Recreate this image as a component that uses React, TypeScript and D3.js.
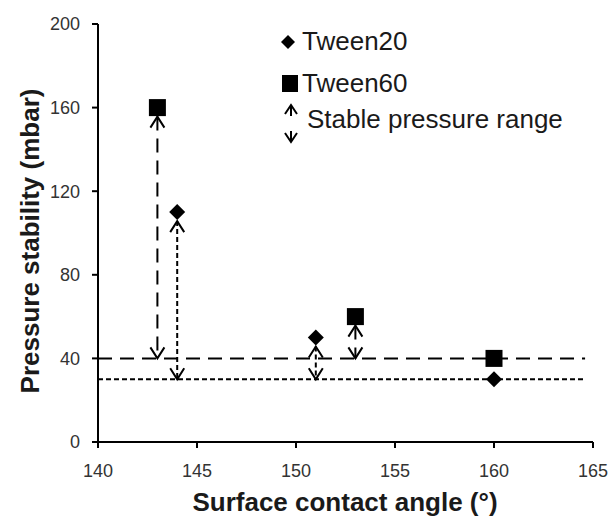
import React from "react";
import { scaleLinear } from "d3";

const width = 610;
const height = 517;
const margin = { top: 24, right: 17, bottom: 75, left: 98 };

// data
const xTicks = [140, 145, 150, 155, 160, 165];
const yTicks = [0, 40, 80, 120, 160, 200];

const tween20X = [144, 151, 160];
const tween20Y = [110, 50, 30];
const tween60X = [143, 153, 160];
const tween60Y = [160, 60, 40];

// stable pressure ranges (arrows): x and top value, down to the base line
const rangeX20 = [144, 151];
const rangeTop20 = [110, 50];
const rangeX60 = [143, 153];
const rangeTop60 = [160, 60];
const base20 = 30;
const base60 = 40;
const baseLineEnd = 164.6;

const longDash = "14,8";
const shortDash = "5,3";
const textColor = "#1a1a1a";

const App = () => {
  const innerWidth = width - margin.left - margin.right;
  const innerHeight = height - margin.top - margin.bottom;

  const x = scaleLinear().domain([140, 165]).range([0, innerWidth]);
  const y = scaleLinear().domain([0, 200]).range([innerHeight, 0]);

  const hw = 7; // arrow head half width
  const hh = 11; // arrow head height

  const arrow = (cx: number, top: number, bottom: number, dash: string, key: string) => {
    const y1 = y(top) + 9;
    const y2 = y(bottom);
    const px = x(cx);
    return (
      <g key={key} stroke="black" strokeWidth={2} fill="none">
        <line x1={px} x2={px} y1={y1} y2={y2} strokeDasharray={dash} />
        <path d={`M${px - hw},${y1 + hh} L${px},${y1} L${px + hw},${y1 + hh}`} />
        <path d={`M${px - hw},${y2 - hh} L${px},${y2} L${px + hw},${y2 - hh}`} />
      </g>
    );
  };

  const diamond = (cx: number, cy: number, r: number) =>
    `M${cx},${cy - r} L${cx + r},${cy} L${cx},${cy + r} L${cx - r},${cy} Z`;

  return (
    <svg
      width={width}
      height={height}
      style={{ position: "absolute", left: 0, top: 0, fontFamily: "Liberation Sans, Arial, sans-serif" }}
    >
      <rect width={width} height={height} fill="white" />
      <g transform={`translate(${margin.left},${margin.top})`}>
        {/* reference lines */}
        <line x1={0} x2={x(baseLineEnd)} y1={y(base60)} y2={y(base60)} stroke="black" strokeWidth={2} strokeDasharray={longDash} />
        <line x1={0} x2={x(baseLineEnd)} y1={y(base20)} y2={y(base20)} stroke="black" strokeWidth={2} strokeDasharray={shortDash} />

        {/* axes */}
        <line x1={0} x2={0} y1={0} y2={innerHeight} stroke="black" strokeWidth={2} />
        <line x1={0} x2={innerWidth} y1={innerHeight} y2={innerHeight} stroke="black" strokeWidth={2} />
        {yTicks.map((t) => (
          <g key={t} transform={`translate(0,${y(t)})`}>
            <line x1={-6} x2={0} stroke="black" strokeWidth={2} />
            <text x={-18} dy=".35em" textAnchor="end" fontSize={18} fill="#333">
              {t}
            </text>
          </g>
        ))}
        {xTicks.map((t) => (
          <g key={t} transform={`translate(${x(t)},${innerHeight})`}>
            <line y1={0} y2={6} stroke="black" strokeWidth={2} />
            <text y={35} textAnchor="middle" fontSize={18} fill="#333">
              {t}
            </text>
          </g>
        ))}

        {/* arrows */}
        {rangeX60.map((cx, i) => arrow(cx, rangeTop60[i], base60, longDash, `a60${i}`))}
        {rangeX20.map((cx, i) => arrow(cx, rangeTop20[i], base20, shortDash, `a20${i}`))}

        {/* markers */}
        {tween60X.map((cx, i) => (
          <rect key={`s${i}`} x={x(cx) - 8.5} y={y(tween60Y[i]) - 8.5} width={17} height={17} fill="black" />
        ))}
        {tween20X.map((cx, i) => (
          <path key={`d${i}`} d={diamond(x(cx), y(tween20Y[i]), 8)} fill="black" />
        ))}
      </g>

      {/* legend */}
      <g>
        <path d={diamond(288, 42, 7)} fill="black" />
        <text x={302} y={50} fontSize={26} fill={textColor}>Tween20</text>
        <rect x={282} y={75} width={16} height={17} fill="black" />
        <text x={302} y={92} fontSize={26} fill={textColor}>Tween60</text>
        <g stroke="black" strokeWidth={2} fill="none">
          <path d="M285,114 L291,105 L297,114" />
          <line x1={291} x2={291} y1={105} y2={116} />
          <line x1={291} x2={291} y1={131} y2={142} />
          <path d="M285,133 L291,142 L297,133" />
        </g>
        <text x={307} y={128} fontSize={26} fill={textColor}>Stable pressure range</text>
      </g>

      {/* axis titles */}
      <text
        transform={`translate(39,241) rotate(-90)`}
        textAnchor="middle"
        fontSize={26}
        fontWeight="bold"
        fill={textColor}
      >
        Pressure stability (mbar)
      </text>
      <text x={345} y={511} textAnchor="middle" fontSize={26} fontWeight="bold" fill={textColor}>
        Surface contact angle (°)
      </text>
    </svg>
  );
};

export default App;
